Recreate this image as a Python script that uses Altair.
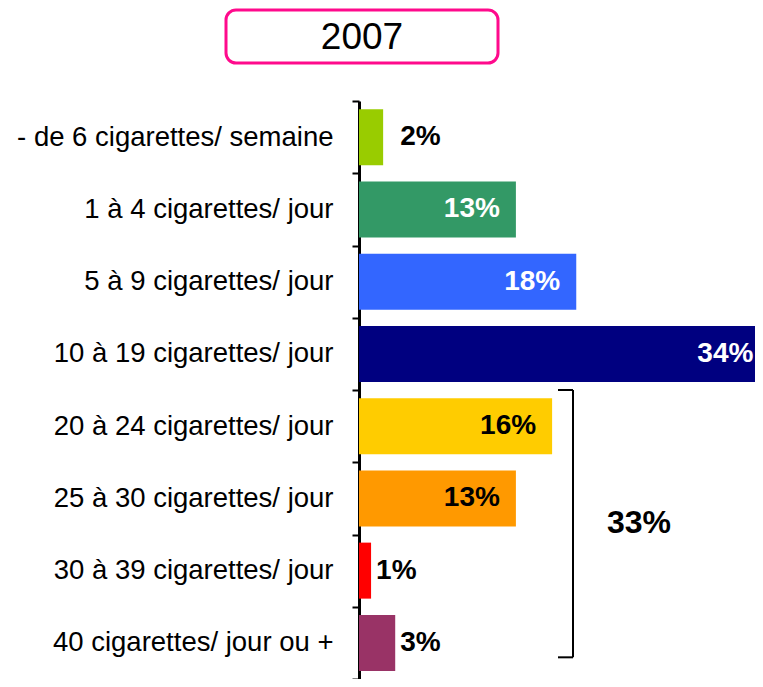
import altair as alt
import pandas as pd

TITLE = "2007"
CATS = [
    "- de 6 cigarettes/ semaine",
    "1 à 4 cigarettes/ jour",
    "5 à 9 cigarettes/ jour",
    "10 à 19 cigarettes/ jour",
    "20 à 24 cigarettes/ jour",
    "25 à 30 cigarettes/ jour",
    "30 à 39 cigarettes/ jour",
    "40 cigarettes/ jour ou +",
]
VALUES = [2, 13, 18, 34, 16, 13, 1, 3]
COLORS = ["#99CC00", "#339966", "#3366FF", "#000080", "#FFCC00", "#FF9900", "#FF0000", "#993366"]
WHITE_LABELS = ["1 à 4 cigarettes/ jour", "5 à 9 cigarettes/ jour", "10 à 19 cigarettes/ jour"]
BRACKET_FIRST = "20 à 24 cigarettes/ jour"
BRACKET_LAST = "40 cigarettes/ jour ou +"
BRACKET_TOTAL = 33

FONT = "Liberation Sans"

df = pd.DataFrame({"cat": CATS, "value": VALUES})
df["label"] = [f"{v}%" for v in VALUES]
br = pd.DataFrame({"top": [BRACKET_FIRST], "bottom": [BRACKET_LAST],
                   "mid": ["25 à 30 cigarettes/ jour"], "total": [f"{BRACKET_TOTAL}%"]})
tdf = pd.DataFrame({"title": [TITLE]})

yscale = alt.Scale(domain=CATS, paddingInner=0, paddingOuter=0)
xscale = alt.Scale(domain=[0, 32.81], nice=False, zero=True)

base = alt.Chart(df)

bars = base.mark_bar(size=56, clip=True).encode(
    y=alt.Y("cat:N", scale=yscale, sort=CATS,
            axis=alt.Axis(title=None, labelFont=FONT, labelFontSize=27.5, labelColor="black",
                          labelPadding=19, tickSize=7, tickWidth=2, tickColor="black",
                          tickBand="extent", domainColor="black", domainWidth=3,
                          grid=False, labelLimit=400)),
    x=alt.X("value:Q", scale=xscale, axis=None),
    color=alt.Color("cat:N", scale=alt.Scale(domain=CATS, range=COLORS), legend=None),
)

inside = base.transform_filter("datum.value >= 5").mark_text(
    align="right", baseline="middle", dx=-16, font=FONT, fontSize=28, fontWeight="bold"
).encode(
    y=alt.Y("cat:N", scale=yscale, sort=CATS),
    x=alt.X("value:Q", scale=xscale),
    text="label:N",
    color=alt.condition(alt.FieldOneOfPredicate(field="cat", oneOf=WHITE_LABELS),
                        alt.value("white"), alt.value("black")),
)

outside_first = base.transform_filter(f"datum.value < 5 && datum.cat == '{CATS[0]}'").mark_text(
    align="left", baseline="middle", dx=17, font=FONT, fontSize=28, fontWeight="bold", color="black"
).encode(
    y=alt.Y("cat:N", scale=yscale, sort=CATS),
    x=alt.X("value:Q", scale=xscale),
    text="label:N",
)

outside = base.transform_filter(f"datum.value < 5 && datum.cat != '{CATS[0]}'").mark_text(
    align="left", baseline="middle", dx=5, font=FONT, fontSize=28, fontWeight="bold", color="black"
).encode(
    y=alt.Y("cat:N", scale=yscale, sort=CATS),
    x=alt.X("value:Q", scale=xscale),
    text="label:N",
)

bchart = alt.Chart(br)
br_vert = bchart.mark_rule(color="black", strokeWidth=2).encode(
    x=alt.value(214),
    y=alt.Y("top:N", scale=yscale, bandPosition=0),
    y2=alt.Y2("bottom:N", bandPosition=0.7),
)
br_top = bchart.mark_rule(color="black", strokeWidth=2).encode(
    x=alt.value(199), x2=alt.value(214),
    y=alt.Y("top:N", scale=yscale, bandPosition=0),
)
br_bot = bchart.mark_rule(color="black", strokeWidth=2).encode(
    x=alt.value(199), x2=alt.value(214),
    y=alt.Y("bottom:N", scale=yscale, bandPosition=0.7),
)
br_text = bchart.mark_text(
    align="center", baseline="middle", font=FONT, fontSize=32, fontWeight="bold", color="black"
).encode(
    x=alt.value(280),
    y=alt.Y("mid:N", scale=yscale, bandPosition=0.84),
    text="total:N",
)

tbox = alt.Chart(tdf).mark_rect(
    fill="white", stroke="#FF0A8C", strokeWidth=3, cornerRadius=10
).encode(
    x=alt.value(-133), x2=alt.value(139), y=alt.value(-91), y2=alt.value(-38)
)
ttext = alt.Chart(tdf).mark_text(
    align="center", baseline="middle", font=FONT, fontSize=37, color="black"
).encode(
    x=alt.value(3), y=alt.value(-63), text="title:N"
)

chart = alt.layer(
    bars, inside, outside_first, outside, br_vert, br_top, br_bot, br_text, tbox, ttext
).properties(
    width=396, height=578,
    autosize=alt.AutoSizeParams(type="none"),
    padding={"left": 351, "top": 93, "right": 0, "bottom": 0},
).configure_view(stroke=None)

chart.save("out.html", embed_options={"renderer": "svg", "actions": False})
